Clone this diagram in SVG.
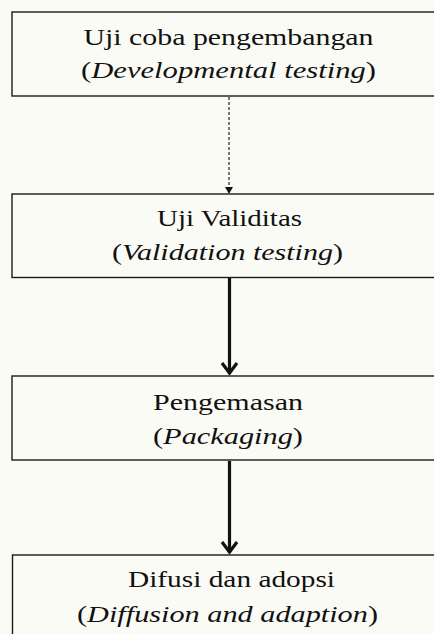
<svg xmlns="http://www.w3.org/2000/svg" width="434" height="634" viewBox="0 0 434 634">
<style>
.box{fill:none;stroke:#1a1a1a;stroke-width:1.4}
text{font-family:'Liberation Serif','DejaVu Serif',serif;font-size:24px;fill:#111;text-anchor:middle}
.i{font-style:italic}
.dash{stroke:#222;stroke-width:1.2;stroke-dasharray:3 2;fill:none}
.solid{stroke:#111;stroke-width:3.2;fill:none}
</style>
<rect x="0" y="0" width="434" height="634" fill="#fbfbf6"/>
<g id="connectors">
<line class="dash" x1="229" y1="97" x2="229" y2="188"/>
<path d="M225,187 L233,187 L229,194 Z" fill="#111"/>
<line class="solid" x1="229.5" y1="278" x2="229.5" y2="374"/>
<polyline class="solid" points="222,363 229.5,373 237,363"/>
<line class="solid" x1="229.5" y1="461" x2="229.5" y2="553"/>
<polyline class="solid" points="222,542 229.5,552 237,542"/>
</g>
<g id="node1">
<rect class="box" x="12" y="12" width="430" height="84"/>
<text x="228.5" y="45" font-family="Liberation Serif, DejaVu Serif, serif" textLength="290" lengthAdjust="spacingAndGlyphs">Uji  coba pengembangan</text>
<text x="228.5" y="78" font-family="Liberation Serif, DejaVu Serif, serif" textLength="295" lengthAdjust="spacingAndGlyphs">(<tspan class="i">Developmental testing</tspan>)</text>
</g>
<g id="node2">
<rect class="box" x="12" y="194" width="430" height="83.5"/>
<text x="229.5" y="226" font-family="Liberation Serif, DejaVu Serif, serif" textLength="145" lengthAdjust="spacingAndGlyphs">Uji Validitas</text>
<text x="227.5" y="260" font-family="Liberation Serif, DejaVu Serif, serif" textLength="231" lengthAdjust="spacingAndGlyphs">(<tspan class="i">Validation testing</tspan>)</text>
</g>
<g id="node3">
<rect class="box" x="12" y="376" width="430" height="84"/>
<text x="228" y="410" font-family="Liberation Serif, DejaVu Serif, serif" textLength="150" lengthAdjust="spacingAndGlyphs">Pengemasan</text>
<text x="228" y="444" font-family="Liberation Serif, DejaVu Serif, serif" textLength="150" lengthAdjust="spacingAndGlyphs">(<tspan class="i">Packaging</tspan>)</text>
</g>
<g id="node4">
<rect class="box" x="12.5" y="555" width="430" height="90"/>
<text x="231.5" y="587" font-family="Liberation Serif, DejaVu Serif, serif" textLength="207" lengthAdjust="spacingAndGlyphs">Difusi dan adopsi</text>
<text x="227.5" y="622" font-family="Liberation Serif, DejaVu Serif, serif" textLength="301" lengthAdjust="spacingAndGlyphs">(<tspan class="i">Diffusion and adaption</tspan>)</text>
</g>
</svg>
